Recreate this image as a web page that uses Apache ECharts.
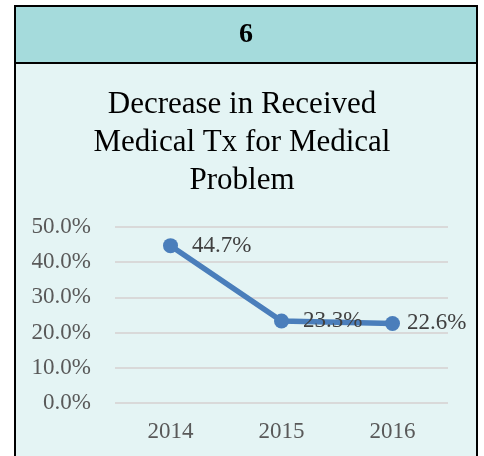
<!DOCTYPE html>
<html><head><meta charset="utf-8">
<script src="https://cdn.jsdelivr.net/npm/echarts@6/dist/echarts.min.js"></script>
<style>html,body{margin:0;padding:0;background:#fff}#c{width:484px;height:456px}</style>
</head><body><div id="c"></div>
<script>
const categories = ['2014', '2015', '2016'];
const values = [44.7, 23.3, 22.6];
const yTicks = [0, 10, 20, 30, 40, 50];
const headerText = '6';
const titleText = 'Decrease in Received\nMedical Tx for Medical\nProblem';

const serif = '"Liberation Serif", "Times New Roman", serif';
const seriesData = values.map((v, i) => i === values.length - 1
  ? {value: v, label: {distance: 7}} : {value: v});
const chart = echarts.init(document.getElementById('c'));
chart.setOption({
  animation: false,
  backgroundColor: '#ffffff',
  graphic: [
    {type: 'rect', z: -10, shape: {x: 15, y: 63, width: 462, height: 410},
     style: {fill: '#e4f4f4', stroke: '#000', lineWidth: 2}},
    {type: 'rect', z: -9, shape: {x: 15, y: 6, width: 462, height: 57},
     style: {fill: '#a5dbdc', stroke: '#000', lineWidth: 2}},
    {type: 'text', z: -8, x: 246, y: 35,
     style: {text: headerText, font: 'bold 28px ' + serif, fill: '#000', align: 'center', verticalAlign: 'middle'}}
  ],
  title: {
    text: titleText, left: 'center', top: 81,
    textStyle: {fontFamily: serif, fontSize: 31, fontWeight: 'normal', color: '#000', lineHeight: 38}
  },
  grid: {left: 115, right: 36, top: 227, bottom: 53},
  xAxis: {
    type: 'category', data: categories, boundaryGap: true,
    axisLine: {show: false}, axisTick: {show: false},
    axisLabel: {fontFamily: serif, fontSize: 23, color: '#595959', margin: 17}
  },
  yAxis: {
    type: 'value', min: yTicks[0], max: yTicks[yTicks.length - 1], interval: 10,
    axisLine: {show: false}, axisTick: {show: false},
    splitLine: {lineStyle: {color: '#d9d9d9', width: 2}},
    axisLabel: {fontFamily: serif, fontSize: 23, color: '#595959', margin: 24,
      formatter: v => v.toFixed(1) + '%'}
  },
  series: [{
    type: 'line', data: seriesData, symbol: 'circle', symbolSize: 15,
    lineStyle: {color: '#4a7ebb', width: 5.5},
    itemStyle: {color: '#4a7ebb'},
    label: {show: true, position: 'right', distance: 14, fontFamily: serif, fontSize: 23, color: '#404040',
      formatter: p => p.value.toFixed(1) + '%'}
  }]
});
</script></body></html>
